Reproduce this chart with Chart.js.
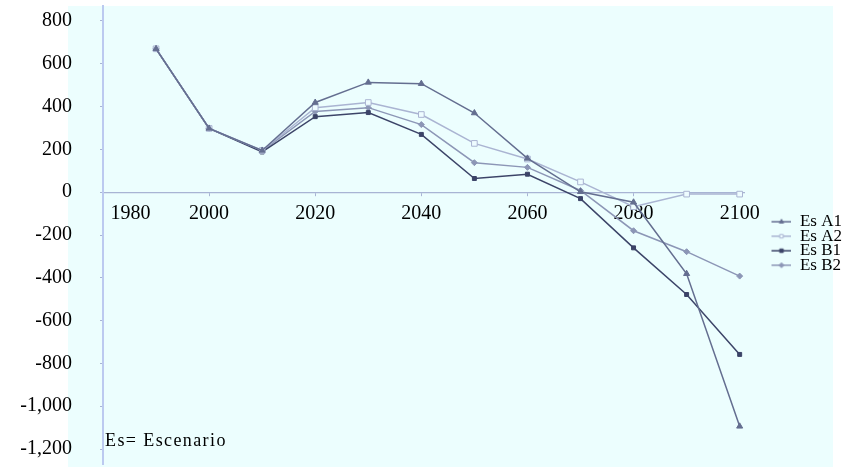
<!DOCTYPE html>
<html>
<head>
<meta charset="utf-8">
<title>Escenarios</title>
<script src="https://cdn.jsdelivr.net/npm/chart.js@4.4.1/dist/chart.umd.min.js"></script>
<style>
  html, body { margin: 0; padding: 0; background: #fff; }
  #wrap { width: 847px; height: 469px; }
</style>
</head>
<body>
<div id="wrap"><canvas id="escChart" width="847" height="469"></canvas></div>
<script>
// years and axis ticks
const years = [1990, 2000, 2010, 2020, 2030, 2040, 2050, 2060, 2070, 2080, 2090, 2100];
const xTicks = [1980, 2000, 2020, 2040, 2060, 2080, 2100];
const yTicks = [800, 600, 400, 200, 0, -200, -400, -600, -800, -1000, -1200];

// series
const seriesNames = ['Es A1', 'Es A2', 'Es B1', 'Es B2'];
const esA1 = [670, 298, 195, 419, 513, 507, 370, 158, 2, -47, -381, -1094];
const esA2 = [670, 298, 195, 395, 419, 363, 228, 155, 48, -68, -9, -9];
const esB1 = [670, 298, 188, 353, 372, 270, 64, 84, -30, -260, -478, -758];
const esB2 = [670, 298, 193, 377, 395, 316, 138, 116, 8, -180, -278, -392];

const noteText = 'Es= Escenario';

Chart.defaults.font.family = '"Liberation Serif", "Times New Roman", serif';
Chart.defaults.color = '#000';

const styles = [
  { color: '#646e90', fill: '#646e90', marker: 'triangle', r: 3.5 },
  { color: '#aab4d2', fill: '#eefcff', marker: 'rect', r: 4 },
  { color: '#3c4468', fill: '#3c4468', marker: 'rect', r: 2.8 },
  { color: '#8c96b6', fill: '#8c96b6', marker: 'rectRot', r: 3 }
];

// small line + marker picture for the legend
function legendIcon(st) {
  const c = document.createElement('canvas');
  c.width = 49; c.height = 10;
  const g = c.getContext('2d');
  g.strokeStyle = st.color;
  g.fillStyle = st.fill;
  g.lineWidth = 1.5;
  g.beginPath(); g.moveTo(29, 5); g.lineTo(49, 5); g.stroke();
  g.lineWidth = 1;
  Chart.helpers.drawPoint(g, { pointStyle: st.marker, radius: 2.5, borderWidth: 1 }, 39, 5);
  return c;
}

function makeSet(label, values, st) {
  return {
    label: label,
    data: years.map((yr, i) => ({ x: yr, y: values[i] })),
    borderColor: st.color,
    backgroundColor: st.fill,
    borderWidth: 1.5,
    pointStyle: st.marker,
    pointRadius: st.r,
    pointBorderWidth: 1,
    pointBorderColor: st.color,
    pointBackgroundColor: st.fill,
    tension: 0
  };
}

const paperPlugin = {
  id: 'paper',
  beforeDraw(chart) {
    const c = chart.ctx;
    c.save();
    c.fillStyle = '#fff';
    c.fillRect(0, 0, chart.width, chart.height);
    c.fillStyle = '#ecfefe';
    c.fillRect(68, 6, 765, 461);
    c.restore();
  },
  afterDraw(chart) {
    const c = chart.ctx;
    c.save();
    c.font = '18px "Liberation Serif", serif';
    c.letterSpacing = '1.4px';
    c.fillStyle = '#000';
    c.textBaseline = 'alphabetic';
    c.fillText(noteText, 105, 446);
    c.restore();
  }
};

const ctx = document.getElementById('escChart').getContext('2d');
new Chart(ctx, {
  type: 'line',
  data: {
    datasets: [
      makeSet(seriesNames[0], esA1, styles[0]),
      makeSet(seriesNames[1], esA2, styles[1]),
      makeSet(seriesNames[2], esB1, styles[2]),
      makeSet(seriesNames[3], esB2, styles[3])
    ]
  },
  options: {
    responsive: false,
    animation: false,
    layout: { padding: { top: 6, bottom: 3, left: 0, right: -5 } },
    plugins: {
      tooltip: { enabled: false },
      legend: {
        position: 'right',
        align: 'center',
        title: { display: true, text: '', font: { size: 15, lineHeight: 1 }, padding: 0 },
        labels: {
          font: { size: 17 },
          color: '#000',
          usePointStyle: true,
          pointStyleWidth: 49,
          padding: -2.5,
          generateLabels(chart) {
            const items = Chart.defaults.plugins.legend.labels.generateLabels(chart);
            items.forEach((it, i) => { it.pointStyle = legendIcon(styles[i]); });
            return items;
          }
        }
      }
    },
    scales: {
      x: {
        type: 'linear',
        position: { y: 0 },
        min: 1980,
        max: 2101,
        afterBuildTicks(scale) {
          scale.ticks = xTicks.map(v => ({ value: v }));
        },
        grid: { drawOnChartArea: false, tickLength: 3, color: '#a8b4d4' },
        border: { color: '#a8b4d4', width: 1.2 },
        ticks: {
          font: { size: 20 },
          color: '#000',
          padding: 7,
          maxRotation: 0,
          autoSkip: false,
          callback: v => v === 1980 ? '           1980' : String(v)
        }
      },
      y: {
        type: 'linear',
        min: -1270,
        max: 870,
        afterBuildTicks(scale) {
          scale.ticks = yTicks.map(v => ({ value: v }));
        },
        afterFit(scale) {
          scale.width = 103;
          scale.paddingTop = 0;
          scale.paddingBottom = 0;
        },
        grid: { drawOnChartArea: false, tickLength: 3, color: '#a8b4d4' },
        border: { color: '#bccaf0', width: 2 },
        ticks: { font: { size: 20 }, color: '#000', padding: 28 }
      }
    }
  },
  plugins: [paperPlugin]
});
</script>
</body>
</html>
